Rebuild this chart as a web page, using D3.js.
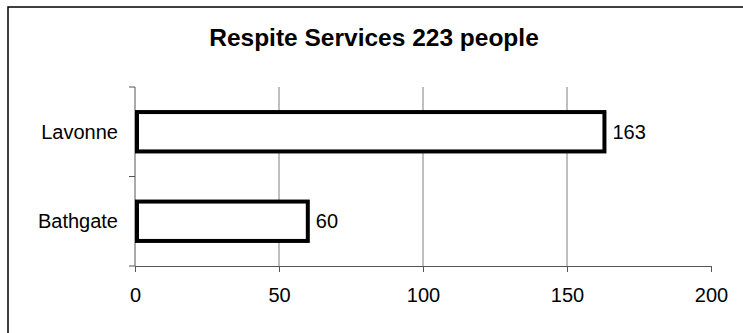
<!DOCTYPE html>
<html>
<head>
<meta charset="utf-8">
<script src="https://cdn.jsdelivr.net/npm/d3@7"></script>
<style>
  html, body { margin: 0; padding: 0; background: #fff; }
  svg { display: block; font-family: "Liberation Sans", Arial, sans-serif; }
</style>
</head>
<body>
<div id="chart"></div>
<script>
// chart data
const categories = ["Lavonne", "Bathgate"];
const values = [163, 60];
const xTicks = [0, 50, 100, 150, 200];
const title = "Respite Services 223 people";

const width = 743;
const height = 333;
const margin = { top: 87, right: 32, bottom: 67, left: 135 };

const svg = d3.select("#chart")
    .append("svg")
    .attr("width", width)
    .attr("height", height);

// outer frame (runs off the right and bottom edges)
svg.append("rect")
    .attr("x", 8)
    .attr("y", 7)
    .attr("width", width)
    .attr("height", height)
    .attr("fill", "none")
    .attr("stroke", "#000")
    .attr("stroke-width", 1.5);

svg.append("text")
    .attr("x", 374)
    .attr("y", 46)
    .attr("text-anchor", "middle")
    .attr("font-size", "24.5px")
    .attr("font-weight", "bold")
    .text(title);

const x = d3.scaleLinear()
    .domain([0, 200])
    .range([margin.left, width - margin.right]);

const y = d3.scaleBand()
    .domain(categories)
    .range([margin.top, height - margin.bottom])
    .paddingInner(0.56)
    .paddingOuter(0.28);

// gridlines
svg.append("g")
    .selectAll("line")
    .data(xTicks.filter(d => d > 0 && d < 200))
    .enter()
    .append("line")
    .attr("x1", d => x(d))
    .attr("x2", d => x(d))
    .attr("y1", margin.top)
    .attr("y2", height - margin.bottom)
    .attr("stroke", "#808080")
    .attr("stroke-width", 1);

// x axis
const xAxis = svg.append("g")
    .attr("transform", `translate(0,${height - margin.bottom})`)
    .call(d3.axisBottom(x).tickValues(xTicks).tickSize(6).tickPadding(16).tickSizeOuter(0));
xAxis.select(".domain").attr("stroke", "#555");
xAxis.selectAll(".tick line").attr("stroke", "#555");
xAxis.selectAll("text").attr("font-size", "20px").attr("fill", "#000").attr("font-family", "Liberation Sans, Arial, sans-serif");

// y axis: ticks sit on the category boundaries
const yTop = margin.top, yBot = height - margin.bottom;
const yAxis = svg.append("g");
yAxis.append("line")
    .attr("x1", x(0)).attr("x2", x(0))
    .attr("y1", yTop).attr("y2", yBot)
    .attr("stroke", "#555");
const bounds = [yTop, (yTop + yBot) / 2, yBot];
yAxis.selectAll(".ytick")
    .data(bounds)
    .enter()
    .append("line")
    .attr("class", "ytick")
    .attr("x1", x(0) - 6).attr("x2", x(0))
    .attr("y1", d => d).attr("y2", d => d)
    .attr("stroke", "#555");
yAxis.selectAll(".ylab")
    .data(categories)
    .enter()
    .append("text")
    .attr("class", "ylab")
    .attr("x", x(0) - 17)
    .attr("y", d => y(d) + y.bandwidth() / 2)
    .attr("dy", "0.35em")
    .attr("text-anchor", "end")
    .attr("font-size", "20px")
    .text(d => d);

// bars
const data = categories.map((c, i) => ({ name: c, value: values[i] }));
svg.selectAll(".bar")
    .data(data)
    .enter()
    .append("rect")
    .attr("class", "bar")
    .attr("x", x(0) + 2)
    .attr("y", d => y(d.name))
    .attr("width", d => x(d.value) - x(0) - 2)
    .attr("height", y.bandwidth())
    .attr("fill", "#fff")
    .attr("stroke", "#000")
    .attr("stroke-width", 4);

// value labels
svg.selectAll(".val")
    .data(data)
    .enter()
    .append("text")
    .attr("class", "val")
    .attr("x", d => x(d.value) + 8)
    .attr("y", d => y(d.name) + y.bandwidth() / 2)
    .attr("dy", "0.35em")
    .attr("font-size", "20px")
    .text(d => d.value);
</script>
</body>
</html>
